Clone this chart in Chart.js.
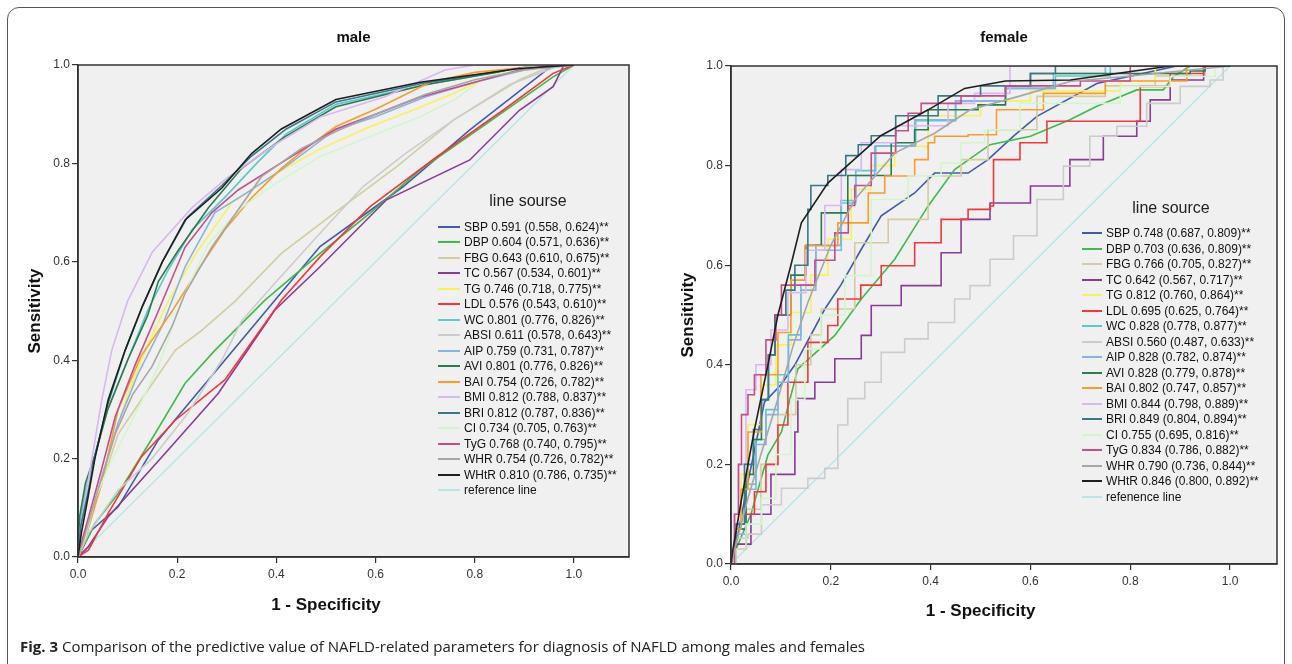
<!DOCTYPE html>
<html>
<head>
<meta charset="utf-8">
<script src="https://cdn.jsdelivr.net/npm/chart.js@4.4.1/dist/chart.umd.min.js"></script>
<style>
  body { margin: 0; background: #fff; width: 1292px; height: 664px; overflow: hidden; position: relative; font-family: Arial, "Liberation Sans", sans-serif; }
  #frame { position: absolute; left: 7px; top: 7px; width: 1278px; height: 720px; border: 1.5px solid #555; border-radius: 12px; box-sizing: border-box; }
  canvas { position: absolute; }
  .lg-title { position: absolute; font-size: 16px; color: #222; white-space: nowrap; transform: translate(-50%, -50%); }
  .lg-row { position: absolute; height: 14px; display: flex; align-items: center; white-space: nowrap; font-size: 12px; color: #111; }
  .lg-row span.sw { display: inline-block; height: 0; border-top: 2.5px solid; margin-right: 4px; }
  #caption { position: absolute; left: 20px; top: 636px; font: 15px "Open Sans", sans-serif; color: #222; white-space: nowrap; }
</style>
</head>
<body>
<div id="frame"></div>
<canvas id="male" width="622" height="615" style="left:10px;top:22px"></canvas>
<canvas id="female" width="620" height="620" style="left:660px;top:22px"></canvas>
<div id="maleLegend"></div>
<div id="femaleLegend"></div>
<div id="caption"><b>Fig. 3</b> Comparison of the predictive value of NAFLD-related parameters for diagnosis of NAFLD among males and females</div>
<script>
const seriesNames = ['SBP', 'DBP', 'FBG', 'TC', 'TG', 'LDL', 'WC', 'ABSI', 'AIP', 'AVI', 'BAI', 'BMI', 'BRI', 'CI', 'TyG', 'WHR', 'WHtR'];
const seriesColors = ['#3f5bb0', '#3dbb4b', '#d3cc9e', '#8a3a97', '#f7f25a', '#f0393c', '#5cc8cc', '#cccccc', '#86b3e3', '#2f7a4c', '#f79d2e', '#dab6f2', '#3a7787', '#d2f6cb', '#c44d8c', '#a6a6a6', '#1e1e1e'];
const maleAuc = ['0.591 (0.558, 0.624)**', '0.604 (0.571, 0.636)**', '0.643 (0.610, 0.675)**', '0.567 (0.534, 0.601)**', '0.746 (0.718, 0.775)**', '0.576 (0.543, 0.610)**', '0.801 (0.776, 0.826)**', '0.611 (0.578, 0.643)**', '0.759 (0.731, 0.787)**', '0.801 (0.776, 0.826)**', '0.754 (0.726, 0.782)**', '0.812 (0.788, 0.837)**', '0.812 (0.787, 0.836)**', '0.734 (0.705, 0.763)**', '0.768 (0.740, 0.795)**', '0.754 (0.726, 0.782)**', '0.810 (0.786, 0.735)**'];
const femaleAuc = ['0.748 (0.687, 0.809)**', '0.703 (0.636, 0.809)**', '0.766 (0.705, 0.827)**', '0.642 (0.567, 0.717)**', '0.812 (0.760, 0.864)**', '0.695 (0.625, 0.764)**', '0.828 (0.778, 0.877)**', '0.560 (0.487, 0.633)**', '0.828 (0.782, 0.874)**', '0.828 (0.779, 0.878)**', '0.802 (0.747, 0.857)**', '0.844 (0.798, 0.889)**', '0.849 (0.804, 0.894)**', '0.755 (0.695, 0.816)**', '0.834 (0.786, 0.882)**', '0.790 (0.736, 0.844)**', '0.846 (0.800, 0.892)**'];
const tickValues = [0, 0.2, 0.4, 0.6, 0.8, 1.0];
const referenceLine = [[0, 0], [1, 1]];

// male ROC points [1 - specificity, sensitivity]
const male_SBP = [[0,0],[0.028,0.055],[0.081,0.102],[0.162,0.238],[0.229,0.319],[0.296,0.4],[0.397,0.522],[0.488,0.631],[0.656,0.753],[0.79,0.868],[0.945,0.99],[0.97,1],[1,1]];
const male_DBP = [[0,0],[0.01,0.02],[0.034,0.068],[0.081,0.129],[0.155,0.25],[0.216,0.353],[0.276,0.42],[0.377,0.522],[0.488,0.617],[0.59,0.7],[0.69,0.787],[0.824,0.881],[0.958,0.976],[1,1]];
const male_FBG = [[0,0],[0.014,0.05],[0.048,0.15],[0.081,0.25],[0.128,0.32],[0.196,0.42],[0.249,0.46],[0.317,0.52],[0.41,0.617],[0.518,0.7],[0.642,0.793],[0.757,0.888],[0.89,0.97],[0.96,1],[1,1]];
const male_TC = [[0,0],[0.02,0.02],[0.061,0.082],[0.175,0.21],[0.283,0.333],[0.397,0.502],[0.488,0.59],[0.622,0.726],[0.79,0.807],[0.89,0.908],[0.958,0.956],[0.98,1],[1,1]];
const male_TG = [[0,0],[0.012,0.03],[0.03,0.09],[0.06,0.2],[0.1,0.33],[0.14,0.43],[0.182,0.52],[0.24,0.62],[0.31,0.72],[0.4,0.78],[0.49,0.83],[0.59,0.875],[0.68,0.91],[0.757,0.942],[0.857,0.99],[0.95,1],[1,1]];
const male_LDL = [[0,0],[0.021,0.014],[0.061,0.089],[0.128,0.204],[0.196,0.278],[0.296,0.36],[0.41,0.522],[0.488,0.61],[0.589,0.712],[0.723,0.813],[0.857,0.908],[0.958,0.983],[1,1]];
const male_WC = [[0,0],[0.004,0.07],[0.016,0.14],[0.035,0.21],[0.06,0.3],[0.1,0.4],[0.14,0.5],[0.18,0.58],[0.23,0.665],[0.3,0.735],[0.36,0.8],[0.42,0.86],[0.52,0.92],[0.7,0.96],[0.9,0.995],[1,1]];
const male_ABSI = [[0,0],[0.021,0.048],[0.081,0.136],[0.149,0.2],[0.22,0.29],[0.29,0.4],[0.33,0.48],[0.4,0.56],[0.488,0.658],[0.575,0.753],[0.66,0.82],[0.757,0.888],[0.87,0.96],[0.96,0.995],[1,1]];
const male_AIP = [[0,0],[0.01,0.03],[0.025,0.08],[0.05,0.17],[0.08,0.27],[0.12,0.37],[0.17,0.47],[0.216,0.59],[0.276,0.7],[0.34,0.74],[0.41,0.787],[0.518,0.868],[0.6,0.895],[0.7,0.935],[0.8,0.965],[0.9,0.99],[0.97,1],[1,1]];
const male_AVI = [[0,0],[0.003,0.08],[0.015,0.15],[0.035,0.21],[0.06,0.3],[0.1,0.4],[0.14,0.49],[0.162,0.56],[0.2,0.62],[0.263,0.71],[0.33,0.79],[0.417,0.854],[0.52,0.915],[0.7,0.96],[0.9,0.995],[1,1]];
const male_BAI = [[0,0],[0.014,0.035],[0.03,0.09],[0.048,0.15],[0.081,0.3],[0.128,0.41],[0.19,0.5],[0.24,0.58],[0.296,0.665],[0.35,0.73],[0.41,0.79],[0.464,0.834],[0.52,0.875],[0.6,0.91],[0.71,0.965],[0.8,0.985],[0.95,1],[1,1]];
const male_BMI = [[0,0],[0.005,0.06],[0.015,0.12],[0.028,0.2],[0.048,0.32],[0.068,0.42],[0.1,0.52],[0.15,0.62],[0.23,0.71],[0.3,0.77],[0.4,0.84],[0.49,0.895],[0.62,0.936],[0.74,0.99],[0.8,1],[1,1]];
const male_BRI = [[0,0],[0.005,0.06],[0.02,0.13],[0.035,0.21],[0.06,0.31],[0.095,0.42],[0.13,0.51],[0.17,0.6],[0.22,0.69],[0.29,0.755],[0.35,0.815],[0.42,0.87],[0.52,0.925],[0.69,0.962],[0.9,0.995],[1,1]];
const male_CI = [[0,0],[0.015,0.04],[0.034,0.116],[0.06,0.18],[0.095,0.25],[0.13,0.32],[0.162,0.387],[0.209,0.52],[0.263,0.637],[0.33,0.71],[0.4,0.76],[0.488,0.814],[0.59,0.855],[0.69,0.895],[0.76,0.93],[0.824,0.976],[0.9,0.995],[1,1]];
const male_TyG = [[0,0],[0.01,0.04],[0.021,0.08],[0.048,0.18],[0.075,0.285],[0.115,0.39],[0.162,0.5],[0.216,0.63],[0.27,0.7],[0.323,0.746],[0.4,0.795],[0.52,0.87],[0.6,0.9],[0.69,0.935],[0.8,0.965],[0.89,0.99],[0.96,1],[1,1]];
const male_WHR = [[0,0],[0.01,0.03],[0.034,0.116],[0.075,0.25],[0.11,0.33],[0.149,0.387],[0.19,0.47],[0.216,0.536],[0.27,0.63],[0.37,0.773],[0.45,0.83],[0.52,0.865],[0.6,0.9],[0.7,0.94],[0.8,0.97],[0.9,0.99],[1,1]];
const male_WHtR = [[0,0],[0.007,0.05],[0.02,0.12],[0.034,0.2],[0.061,0.32],[0.095,0.42],[0.13,0.51],[0.17,0.6],[0.216,0.685],[0.29,0.75],[0.35,0.82],[0.41,0.87],[0.52,0.93],[0.69,0.965],[0.89,0.993],[1,1]];

// female ROC points [1 - specificity, sensitivity]
const female_SBP = [[0,0],[0.01,0.04],[0.034,0.165],[0.067,0.325],[0.1,0.36],[0.128,0.4],[0.188,0.512],[0.22,0.56],[0.261,0.632],[0.301,0.699],[0.368,0.745],[0.408,0.785],[0.475,0.785],[0.515,0.812],[0.566,0.859],[0.613,0.899],[0.733,0.965],[0.893,1],[1,1]];
const female_DBP = [[0,0],[0.01,0.03],[0.04,0.1],[0.074,0.219],[0.101,0.265],[0.134,0.392],[0.208,0.459],[0.261,0.532],[0.328,0.612],[0.395,0.719],[0.448,0.792],[0.519,0.842],[0.6,0.859],[0.679,0.892],[0.733,0.919],[0.813,0.952],[0.866,0.952],[0.887,0.979],[0.92,1],[1,1]];
const female_FBG = [[0,0],[0.01,0.04],[0.03,0.11],[0.06,0.2],[0.094,0.3],[0.13,0.4],[0.16,0.46],[0.181,0.512],[0.248,0.645],[0.315,0.692],[0.395,0.779],[0.461,0.812],[0.515,0.872],[0.613,0.939],[0.75,0.96],[0.85,0.98],[0.95,1],[1,1]];
const female_TC = [[0,0],[0.01,0.04],[0.04,0.1],[0.08,0.18],[0.128,0.265],[0.134,0.332],[0.168,0.365],[0.208,0.412],[0.261,0.459],[0.281,0.519],[0.341,0.559],[0.421,0.625],[0.461,0.692],[0.519,0.725],[0.6,0.759],[0.679,0.812],[0.746,0.859],[0.813,0.889],[0.84,0.932],[0.88,0.972],[0.947,1],[1,1]];
const female_TG = [[0,0],[0.008,0.07],[0.02,0.18],[0.034,0.28],[0.06,0.36],[0.09,0.44],[0.121,0.505],[0.16,0.58],[0.194,0.652],[0.241,0.752],[0.28,0.8],[0.328,0.839],[0.395,0.9],[0.5,0.93],[0.6,0.95],[0.78,0.97],[0.85,1],[1,1]];
const female_LDL = [[0,0],[0.01,0.03],[0.03,0.1],[0.047,0.145],[0.07,0.2],[0.094,0.279],[0.114,0.365],[0.154,0.445],[0.194,0.479],[0.214,0.532],[0.26,0.56],[0.301,0.599],[0.368,0.645],[0.421,0.692],[0.475,0.712],[0.519,0.719],[0.526,0.812],[0.579,0.846],[0.633,0.889],[0.746,0.889],[0.82,0.959],[0.88,0.985],[0.947,1],[1,1]];
const female_WC = [[0,0],[0.01,0.07],[0.03,0.16],[0.05,0.25],[0.07,0.31],[0.094,0.38],[0.115,0.46],[0.14,0.56],[0.17,0.64],[0.22,0.73],[0.25,0.79],[0.29,0.84],[0.37,0.89],[0.45,0.93],[0.55,0.955],[0.65,0.98],[0.76,1],[1,1]];
const female_ABSI = [[0,0],[0.007,0.052],[0.034,0.06],[0.061,0.119],[0.101,0.152],[0.154,0.172],[0.188,0.192],[0.214,0.279],[0.234,0.332],[0.268,0.365],[0.301,0.425],[0.348,0.452],[0.395,0.485],[0.448,0.532],[0.479,0.559],[0.519,0.612],[0.566,0.659],[0.613,0.732],[0.666,0.799],[0.719,0.859],[0.773,0.879],[0.833,0.925],[0.9,0.959],[0.96,0.972],[0.986,1],[1,1]];
const female_AIP = [[0,0],[0.01,0.06],[0.03,0.15],[0.05,0.24],[0.07,0.3],[0.094,0.365],[0.115,0.45],[0.14,0.55],[0.17,0.63],[0.221,0.725],[0.25,0.78],[0.288,0.839],[0.368,0.892],[0.45,0.93],[0.55,0.955],[0.646,0.985],[0.75,1],[1,1]];
const female_AVI = [[0,0],[0.01,0.07],[0.03,0.18],[0.045,0.25],[0.061,0.33],[0.075,0.42],[0.088,0.5],[0.12,0.58],[0.15,0.64],[0.181,0.705],[0.234,0.78],[0.295,0.78],[0.321,0.846],[0.368,0.872],[0.395,0.912],[0.495,0.922],[0.55,0.96],[0.6,0.985],[0.92,0.99],[0.95,1],[1,1]];
const female_BAI = [[0,0],[0.01,0.07],[0.02,0.15],[0.034,0.265],[0.06,0.38],[0.094,0.465],[0.12,0.57],[0.148,0.639],[0.214,0.685],[0.275,0.745],[0.308,0.779],[0.368,0.812],[0.395,0.846],[0.408,0.859],[0.475,0.862],[0.532,0.912],[0.626,0.945],[0.75,0.97],[0.913,1],[1,1]];
const female_BMI = [[0,0],[0.007,0.1],[0.015,0.2],[0.03,0.35],[0.05,0.4],[0.08,0.47],[0.114,0.545],[0.15,0.63],[0.188,0.72],[0.221,0.792],[0.261,0.846],[0.33,0.88],[0.435,0.925],[0.488,0.945],[0.559,1],[1,1]];
const female_BRI = [[0,0],[0.01,0.08],[0.027,0.2],[0.045,0.27],[0.061,0.33],[0.075,0.42],[0.088,0.5],[0.11,0.55],[0.128,0.6],[0.154,0.712],[0.16,0.76],[0.194,0.78],[0.23,0.82],[0.255,0.842],[0.281,0.86],[0.33,0.9],[0.415,0.94],[0.5,0.96],[0.6,0.985],[0.65,1],[1,1]];
const female_CI = [[0,0],[0.01,0.03],[0.03,0.08],[0.061,0.132],[0.09,0.22],[0.12,0.33],[0.148,0.432],[0.18,0.5],[0.228,0.579],[0.281,0.732],[0.355,0.779],[0.421,0.805],[0.461,0.846],[0.508,0.872],[0.579,0.925],[0.78,0.959],[0.88,0.979],[0.97,1],[1,1]];
const female_TyG = [[0,0],[0.007,0.1],[0.015,0.2],[0.021,0.3],[0.034,0.34],[0.047,0.38],[0.07,0.45],[0.09,0.5],[0.101,0.56],[0.168,0.61],[0.208,0.665],[0.235,0.72],[0.248,0.76],[0.281,0.825],[0.33,0.87],[0.355,0.905],[0.381,0.925],[0.461,0.94],[0.55,0.96],[0.7,0.97],[0.8,1],[1,1]];
const female_WHR = [[0,0],[0.01,0.04],[0.034,0.132],[0.06,0.22],[0.094,0.332],[0.125,0.44],[0.154,0.525],[0.2,0.64],[0.248,0.732],[0.328,0.825],[0.408,0.865],[0.479,0.912],[0.58,0.94],[0.679,0.969],[0.8,0.98],[0.9,0.99],[1,1]];
const female_WHtR = [[0,0],[0.004,0.03],[0.021,0.13],[0.047,0.27],[0.074,0.4],[0.094,0.5],[0.12,0.6],[0.141,0.685],[0.194,0.765],[0.3,0.86],[0.395,0.912],[0.468,0.955],[0.55,0.97],[0.68,0.972],[0.88,1],[1,1]];

const maleCurves = [male_SBP, male_DBP, male_FBG, male_TC, male_TG, male_LDL, male_WC, male_ABSI, male_AIP, male_AVI, male_BAI, male_BMI, male_BRI, male_CI, male_TyG, male_WHR, male_WHtR];
const femaleCurves = [female_SBP, female_DBP, female_FBG, female_TC, female_TG, female_LDL, female_WC, female_ABSI, female_AIP, female_AVI, female_BAI, female_BMI, female_BRI, female_CI, female_TyG, female_WHR, female_WHtR];

// plot background + black frame round the plot area
const framePlugin = {
  id: 'frame',
  beforeDraw(chart) {
    const a = chart.chartArea, ctx = chart.ctx;
    ctx.save();
    ctx.fillStyle = '#f0f0f0';
    ctx.fillRect(a.left, a.top, a.right - a.left, a.bottom - a.top);
    ctx.restore();
  },
  afterDraw(chart) {
    const a = chart.chartArea, ctx = chart.ctx;
    ctx.save();
    ctx.strokeStyle = '#333';
    ctx.lineWidth = 1.5;
    ctx.strokeRect(a.left, a.top, a.right - a.left, a.bottom - a.top);
    ctx.restore();
  }
};

// x title sits under x = 0.5, not under the middle of the plot
const xTitlePlugin = {
  id: 'xTitle',
  afterDraw(chart, args, opts) {
    const ctx = chart.ctx;
    ctx.save();
    ctx.font = 'bold 17px Arial';
    ctx.fillStyle = '#111';
    ctx.textAlign = 'center';
    ctx.textBaseline = 'middle';
    ctx.fillText(opts.text, chart.scales.x.getPixelForValue(0.5), opts.y);
    ctx.restore();
  }
};

function makeChart(id, p) {
  const datasets = p.curves.map((pts, i) => ({
    label: seriesNames[i] + ' ' + p.auc[i],
    data: pts.map(v => ({ x: v[0], y: v[1] })),
    borderColor: seriesColors[i],
    borderWidth: 1.6,
    pointRadius: 0,
    fill: false,
    tension: 0,
    stepped: p.stepped.includes(seriesNames[i]) ? 'before' : false,
    order: seriesNames.length - i
  }));
  datasets.unshift({
    label: p.refLabel,
    data: referenceLine.map(v => ({ x: v[0], y: v[1] })),
    borderColor: '#b6e6e8',
    borderWidth: 1.4,
    pointRadius: 0,
    order: 100
  });

  const chart = new Chart(document.getElementById(id), {
    type: 'line',
    data: { datasets },
    options: {
      responsive: false,
      animation: false,
      layout: { padding: { left: 0, right: 3, top: 0, bottom: 0 } },
      plugins: {
        legend: { display: false },
        tooltip: { enabled: false },
        title: {
          display: true,
          text: p.title,
          fullSize: false,
          color: '#111',
          font: { family: 'Arial', size: 15, weight: 'bold' },
          padding: { top: 7, bottom: p.titleGap }
        },
        xTitle: { text: '1 - Specificity', y: p.xTitleY }
      },
      scales: {
        x: {
          type: 'linear',
          min: 0,
          max: p.xMax,
          afterBuildTicks: s => { s.ticks = tickValues.map(v => ({ value: v })); },
          afterFit: s => { s.height = p.xAxisH; },
          ticks: { callback: v => v.toFixed(1), color: '#333', font: { family: 'Arial', size: 12 }, padding: 4, maxRotation: 0 },
          grid: { drawOnChartArea: false, drawTicks: true, tickLength: 6, color: '#333', lineWidth: 1.2 },
          border: { display: true, color: '#333', width: 1.5 }
        },
        y: {
          min: 0,
          max: 1,
          afterBuildTicks: s => { s.ticks = tickValues.map(v => ({ value: v })); },
          afterFit: s => { s.width = p.yAxisW; },
          ticks: { callback: v => v.toFixed(1), color: '#333', font: { family: 'Arial', size: 12 }, padding: 2 },
          grid: { drawOnChartArea: false, drawTicks: true, tickLength: 6, color: '#333', lineWidth: 1.2 },
          border: { display: true, color: '#333', width: 1.5 },
          title: { display: true, text: 'Sensitivity', color: '#111', font: { family: 'Arial', size: 17, weight: 'bold' }, padding: { top: p.yTitlePad, bottom: 0 } }
        }
      }
    },
    plugins: [framePlugin, xTitlePlugin]
  });

  // html legend built from the chart's own datasets
  const box = document.getElementById(p.legendId);
  const t = document.createElement('div');
  t.className = 'lg-title';
  t.textContent = p.legendTitle;
  t.style.left = p.lg.titleX + 'px';
  t.style.top = p.lg.titleY + 'px';
  box.appendChild(t);
  const ordered = datasets.slice(1).concat(datasets[0]);
  ordered.forEach((d, i) => {
    const row = document.createElement('div');
    row.className = 'lg-row';
    row.style.left = p.lg.x + 'px';
    row.style.top = (p.lg.y + i * p.lg.step - 7) + 'px';
    const sw = document.createElement('span');
    sw.className = 'sw';
    sw.style.width = p.lg.sw + 'px';
    sw.style.borderTopColor = d.borderColor;
    row.appendChild(sw);
    row.appendChild(document.createTextNode(d.label));
    box.appendChild(row);
  });
  return chart;
}

makeChart('male', {
  title: 'male', curves: maleCurves, auc: maleAuc, refLabel: 'reference line',
  stepped: [], xMax: 1.111, xAxisH: 80, yAxisW: 68, titleGap: 18, yTitlePad: 15, xTitleY: 583,
  legendId: 'maleLegend', legendTitle: 'line sourse',
  lg: { titleX: 528, titleY: 201, x: 438, y: 227, step: 15.49, sw: 22 }
});
makeChart('female', {
  title: 'female', curves: femaleCurves, auc: femaleAuc, refLabel: 'refenence line',
  stepped: ['FBG', 'TC', 'TG', 'LDL', 'WC', 'ABSI', 'AIP', 'AVI', 'BAI', 'BMI', 'BRI', 'CI', 'TyG'],
  xMax: 1.094, xAxisH: 78, yAxisW: 71, titleGap: 19, yTitlePad: 18, xTitleY: 589,
  legendId: 'femaleLegend', legendTitle: 'line source',
  lg: { titleX: 1171, titleY: 208, x: 1082, y: 233, step: 15.53, sw: 20 }
});
</script>
</body>
</html>
